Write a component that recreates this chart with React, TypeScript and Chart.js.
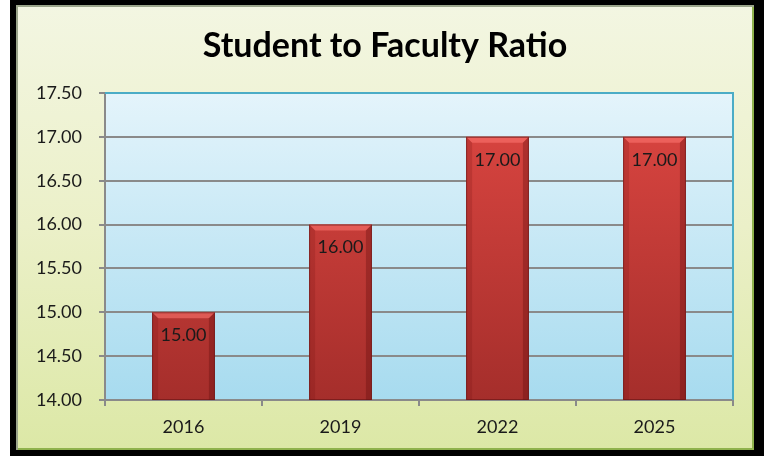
import React, { useEffect, useRef } from "react";
import { Chart, registerables } from "chart.js";

Chart.register(...registerables);

const TITLE = "Student to Faculty Ratio";
const categories = ["2016", "2019", "2022", "2025"];
const ratios = [15.0, 16.0, 17.0, 17.0];
const Y_MIN = 14;
const Y_MAX = 17.5;
const Y_STEP = 0.5;

const FONT = "Lato, 'Open Sans', sans-serif";

const backgroundPlugin = {
  id: "frameBg",
  beforeDraw(chart: any) {
    const { ctx, width, height, chartArea } = chart;
    ctx.save();
    ctx.fillStyle = "#ffffff";
    ctx.fillRect(0, 0, width, height);
    ctx.fillStyle = "#000000";
    ctx.fillRect(10, 0, width - 10, height);
    const x0 = 16, y0 = 5, x1 = 754, y1 = 450;
    const g = ctx.createLinearGradient(0, y0, 0, y1);
    g.addColorStop(0, "#f3f6e2");
    g.addColorStop(0.5, "#ebf0c8");
    g.addColorStop(1, "#dce8a6");
    ctx.fillStyle = g;
    ctx.fillRect(x0, y0, x1 - x0, y1 - y0);
    ctx.strokeStyle = "#8fb24c";
    ctx.lineWidth = 2;
    ctx.beginPath();
    ctx.moveTo(x0, y1 - 1);
    ctx.lineTo(x1 - 1, y1 - 1);
    ctx.lineTo(x1 - 1, y0);
    ctx.stroke();
    ctx.strokeStyle = "#9aa48a";
    ctx.beginPath();
    ctx.moveTo(x0 + 1, y1);
    ctx.lineTo(x0 + 1, y0 + 1);
    ctx.lineTo(x1, y0 + 1);
    ctx.stroke();
    // title
    ctx.fillStyle = "#000000";
    ctx.font = `bold 34px ${FONT}`;
    ctx.textAlign = "center";
    ctx.textBaseline = "alphabetic";
    ctx.fillText(TITLE, 385, 57);
    // plot area
    const { left, right, top, bottom } = chartArea;
    const pg = ctx.createLinearGradient(0, top, 0, bottom);
    pg.addColorStop(0, "#e4f4fb");
    pg.addColorStop(1, "#a7dbef");
    ctx.fillStyle = pg;
    ctx.fillRect(left, top, right - left, bottom - top);
    ctx.restore();
  },
  afterDraw(chart: any) {
    const { ctx, chartArea } = chart;
    const { left, right, top, bottom } = chartArea;
    ctx.save();
    ctx.strokeStyle = "#4bacc6";
    ctx.lineWidth = 2;
    ctx.beginPath();
    ctx.moveTo(left, top);
    ctx.lineTo(right, top);
    ctx.lineTo(right, bottom);
    ctx.stroke();
    ctx.restore();
  },
};

const barStylePlugin = {
  id: "barStyle",
  afterDatasetsDraw(chart: any) {
    const { ctx, chartArea } = chart;
    const meta = chart.getDatasetMeta(0);
    ctx.save();
    meta.data.forEach((bar: any, i: number) => {
      const p = bar.getProps(["x", "y", "base", "width"], true);
      const { x, y, width } = p;
      const base = Math.min(p.base, chartArea.bottom);
      const l = x - width / 2;
      const r = x + width / 2;
      const b = 6;
      // top bevel
      ctx.fillStyle = "rgba(255,120,115,0.55)";
      ctx.beginPath();
      ctx.moveTo(l, y);
      ctx.lineTo(r, y);
      ctx.lineTo(r - b, y + b);
      ctx.lineTo(l + b, y + b);
      ctx.closePath();
      ctx.fill();
      // left bevel
      ctx.fillStyle = "rgba(120,20,20,0.22)";
      ctx.beginPath();
      ctx.moveTo(l, y);
      ctx.lineTo(l + b, y + b);
      ctx.lineTo(l + b, base);
      ctx.lineTo(l, base);
      ctx.closePath();
      ctx.fill();
      // right bevel
      ctx.fillStyle = "rgba(90,10,10,0.32)";
      ctx.beginPath();
      ctx.moveTo(r, y);
      ctx.lineTo(r - b, y + b);
      ctx.lineTo(r - b, base);
      ctx.lineTo(r, base);
      ctx.closePath();
      ctx.fill();
      // outline
      ctx.strokeStyle = "rgba(100,20,20,0.6)";
      ctx.lineWidth = 1;
      ctx.strokeRect(l + 0.5, y + 0.5, width - 1, base - y - 1);
      // label
      ctx.fillStyle = "#1a1a1a";
      ctx.font = `18px ${FONT}`;
      ctx.textAlign = "center";
      ctx.textBaseline = "middle";
      ctx.fillText(ratios[i].toFixed(2), x, y + 23);
    });
    ctx.restore();
  },
};

export default function App() {
  const canvasRef = useRef<HTMLCanvasElement | null>(null);

  useEffect(() => {
    document.body.style.margin = "0";
    const canvas = canvasRef.current;
    if (!canvas) return;
    const chart = new Chart(canvas, {
      type: "bar",
      data: {
        labels: categories,
        datasets: [
          {
            label: "Ratio",
            data: ratios,
            backgroundColor: (c: any) => {
              const area = c.chart.chartArea;
              if (!area) return "#c0392b";
              const g = c.chart.ctx.createLinearGradient(0, area.top, 0, area.bottom);
              g.addColorStop(0, "#de4742");
              g.addColorStop(1, "#a52e2b");
              return g;
            },
            borderWidth: 0,
            barPercentage: 0.4,
            categoryPercentage: 1,
          },
        ],
      },
      options: {
        responsive: false,
        animation: false,
        devicePixelRatio: 1,
        layout: { padding: { left: 0, right: 31, top: 93, bottom: 0 } },
        plugins: {
          legend: { display: false },
          tooltip: { enabled: false },
          title: { display: false },
        },
        scales: {
          x: {
            offset: true,
            grid: {
              offset: true,
              drawOnChartArea: false,
              color: "#8a8a8a",
              lineWidth: 2,
              tickLength: 6,
            },
            border: { color: "#8a8a8a", width: 2 },
            ticks: {
              color: "#1a1a1a",
              font: { family: FONT, size: 18 },
              padding: 10,
            },
            afterFit: (s: any) => {
              s.height = 56;
            },
          },
          y: {
            min: Y_MIN,
            max: Y_MAX,
            grid: {
              color: "#8a8a8a",
              lineWidth: 2,
              tickLength: 6,
            },
            border: { color: "#8a8a8a", width: 2 },
            ticks: {
              stepSize: Y_STEP,
              color: "#1a1a1a",
              font: { family: FONT, size: 18 },
              padding: 17,
              callback: (v: any) => Number(v).toFixed(2),
            },
            afterFit: (s: any) => {
              s.width = 105;
            },
          },
        },
      },
      plugins: [backgroundPlugin, barStylePlugin],
    });
    return () => chart.destroy();
  }, []);

  return (
    <div style={{ position: "absolute", left: 0, top: 0, width: 764, height: 456 }}>
      <canvas ref={canvasRef} width={764} height={456} />
    </div>
  );
}
